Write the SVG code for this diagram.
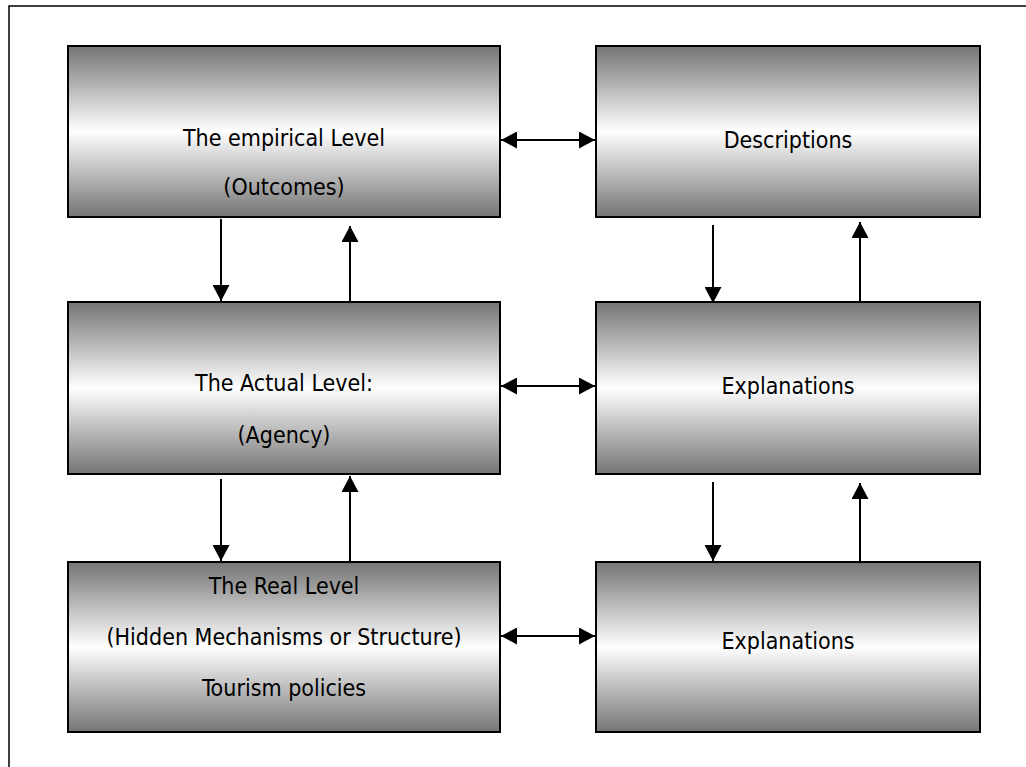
<svg xmlns="http://www.w3.org/2000/svg" width="1026" height="767" viewBox="0 0 1026 767">
<style>
.box{stroke:#000;stroke-width:2;fill:url(#g)}
.t{font-family:"DejaVu Sans Condensed","DejaVu Sans",Tahoma,sans-serif;font-stretch:condensed;font-size:23px;fill:#000;text-anchor:middle}
.c{stroke:#000;stroke-width:2;fill:none;marker-end:url(#ah)}
.d{marker-start:url(#ah)}
</style>
<defs>
<linearGradient id="g" x1="0" y1="0" x2="0" y2="1">
<stop offset="0" stop-color="#747474"/>
<stop offset="0.5" stop-color="#ffffff"/>
<stop offset="1" stop-color="#747474"/>
</linearGradient>
<marker id="ah" markerUnits="userSpaceOnUse" markerWidth="16" markerHeight="17" refX="16" refY="8.5" orient="auto-start-reverse">
<path d="M0,0 L16,8.5 L0,17 z" fill="#000"/>
</marker>
</defs>
<rect width="1026" height="767" fill="#fff"/>
<rect x="9" y="6" width="1040" height="800" fill="none" stroke="#000" stroke-width="1.5"/>
<g id="empirical">
<rect class="box" x="68" y="46" width="432" height="171"/>
<text class="t" x="284" y="146">The empirical Level</text>
<text class="t" x="284" y="195">(Outcomes)</text>
</g>
<g id="descriptions">
<rect class="box" x="596" y="46" width="384" height="171"/>
<text class="t" x="788" y="148">Descriptions</text>
</g>
<g id="actual">
<rect class="box" x="68" y="302" width="432" height="172"/>
<text class="t" x="284" y="391">The Actual Level:</text>
<text class="t" x="284" y="443">(Agency)</text>
</g>
<g id="explanations1">
<rect class="box" x="596" y="302" width="384" height="172"/>
<text class="t" x="788" y="394">Explanations</text>
</g>
<g id="real">
<rect class="box" x="68" y="562" width="432" height="170"/>
<text class="t" x="284" y="594">The Real Level</text>
<text class="t" x="284" y="645">(Hidden Mechanisms or Structure)</text>
<text class="t" x="284" y="696">Tourism policies</text>
</g>
<g id="explanations2">
<rect class="box" x="596" y="562" width="384" height="170"/>
<text class="t" x="788" y="649">Explanations</text>
</g>
<g id="connectors">
<line class="c" x1="221" y1="219" x2="221" y2="301"/>
<line class="c" x1="350" y1="301" x2="350" y2="226"/>
<line class="c" x1="713" y1="225" x2="713" y2="303"/>
<line class="c" x1="860" y1="301" x2="860" y2="222"/>
<line class="c" x1="221" y1="479" x2="221" y2="561"/>
<line class="c" x1="350" y1="561" x2="350" y2="476"/>
<line class="c" x1="713" y1="482" x2="713" y2="561"/>
<line class="c" x1="860" y1="561" x2="860" y2="483"/>
<line class="c d" x1="501" y1="140" x2="595" y2="140"/>
<line class="c d" x1="501" y1="386" x2="595" y2="386"/>
<line class="c d" x1="501" y1="636" x2="595" y2="636"/>
</g>
</svg>
